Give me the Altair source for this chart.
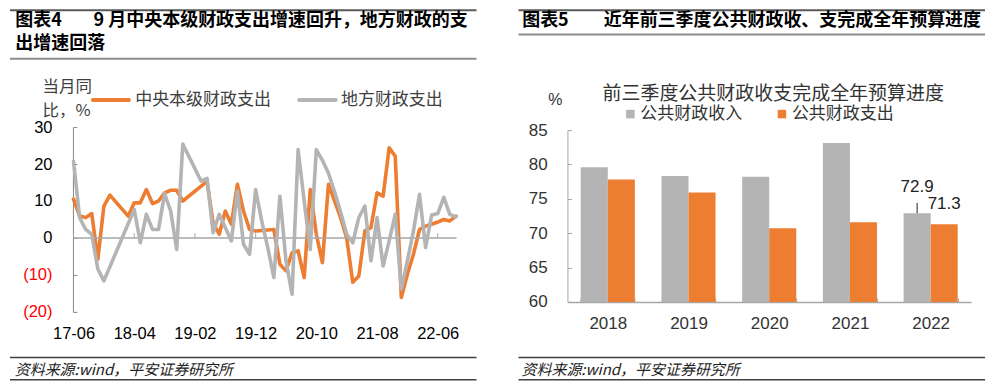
import altair as alt
import pandas as pd

# ---------------- data ----------------
months = [
    "17-06", "17-07", "17-08", "17-09", "17-10", "17-11", "17-12",
    "18-01", "18-02", "18-03", "18-04", "18-05", "18-06", "18-07", "18-08", "18-09", "18-10", "18-11", "18-12",
    "19-01", "19-02", "19-03", "19-04", "19-05", "19-06", "19-07", "19-08", "19-09", "19-10", "19-11", "19-12",
    "20-01", "20-02", "20-03", "20-04", "20-05", "20-06", "20-07", "20-08", "20-09", "20-10", "20-11", "20-12",
    "21-01", "21-02", "21-03", "21-04", "21-05", "21-06", "21-07", "21-08", "21-09", "21-10", "21-11", "21-12",
    "22-01", "22-02", "22-03", "22-04", "22-05", "22-06", "22-07", "22-08", "22-09",
]
central = [
    10.5, 6.0, 5.5, 6.6, -5.8, 8.6, 11.6,
    None, None, 5.9, 9.5, 9.5, 13.1, 9.3, 10.0, 12.2, 12.9, 12.9, 10.0,
    None, None, None, 15.3, 4.0, 1.0, 7.3, 3.7, 14.5, 7.3, 2.3, 1.9,
    None, None, 2.3, -7.1, -8.9, -4.0, -3.5, -10.7, 13.1, 1.0, -6.7, 14.5,
    10.0, 5.5, 0.0, -12.0, -10.3, 1.9, 2.8, 12.2, 11.3, 24.4, 22.1, -16.1,
    -9.8, -4.4, 2.3, 3.2, 3.7, 4.3, 5.0, 4.6, 5.9,
]
local = [
    20.8, 5.5, 2.3, 1.0, -8.4, -11.6, None,
    None, None, None, 7.7, -1.3, 6.4, 2.3, 2.3, 12.0, 7.3, -3.1, 25.4,
    None, None, 15.4, 16.1, 1.4, 6.4, 2.8, -0.8, 12.7, -1.7, -4.4, 13.1,
    4.6, -2.6, -10.7, 11.3, -6.2, -15.2, 23.9, 10.0, -3.1, 23.9, 21.0, 17.5,
    12.5, 7.0, 1.0, -1.3, 5.5, 8.6, -6.2, 5.5, -7.6, -0.8, 6.4, -13.8,
    -6.2, 1.9, 11.8, -2.6, 6.2, 6.6, 11.0, 6.4, 5.7,
]
tick_months = ["17-06", "18-04", "19-02", "19-12", "20-10", "21-08", "22-06"]
left_y_ticks = [-20, -10, 0, 10, 20, 30]

years = ["2018", "2019", "2020", "2021", "2022"]
revenue = [79.6, 78.3, 78.2, 83.1, 72.9]
expenditure = [77.8, 75.9, 70.7, 71.6, 71.3]
right_y_ticks = [60, 65, 70, 75, 80, 85]

S_C = "中央本级财政支出"
S_L = "地方财政支出"
REV = "公共财政收入"
EXP = "公共财政支出"

# ---------------- style ----------------
ORANGE = "#ED7D31"
GRAY = "#B4B4B4"
CJK = "Noto Sans CJK SC"
NUM = "Liberation Sans"

one = pd.DataFrame({"k": [0]})


def txt(x, y, s, size=16, color="#333333", align="left", weight="normal",
        style="normal", font=CJK):
    return alt.Chart(one).mark_text(
        align=align, baseline="middle", fontSize=size, color=color, font=font,
        fontWeight=weight, fontStyle=style,
    ).encode(x=alt.value(x), y=alt.value(y), text=alt.value(s))


def hline(x1, x2, y, color, width, cap="butt"):
    return alt.Chart(one).mark_rule(color=color, strokeWidth=width, strokeCap=cap).encode(
        x=alt.value(x1), x2=alt.value(x2), y=alt.value(y)
    )


def square(x, y, color, size=72):
    return alt.Chart(one).mark_square(color=color, size=size, opacity=1).encode(
        x=alt.value(x), y=alt.value(y)
    )


# ---------------- left panel ----------------
df_c = pd.DataFrame({"month": months, "value": central, "series": S_C}).dropna()
df_l = pd.DataFrame({"month": months, "value": local, "series": S_L}).dropna()
df_ticks = pd.DataFrame({"month": tick_months})

x_left = alt.X(
    "month:O",
    scale=alt.Scale(type="point", domain=months, padding=0.1),
    axis=alt.Axis(values=tick_months, labelAngle=0, domain=False, ticks=False,
                  labelFont=NUM, labelFontSize=16.5, labelColor="#000000",
                  labelPadding=13.5, title=None, labelOverlap=False),
)
y_left = alt.Y(
    "value:Q",
    scale=alt.Scale(domain=[-20, 30], nice=False, zero=False),
    axis=alt.Axis(
        values=left_y_ticks, tickCount=20, title=None, grid=False, labelOverlap=False,
        domainColor="#868686", domainWidth=1, tickColor="#868686", tickWidth=1,
        tickSize=alt.ExprRef(expr="-4"), labelPadding=25,
        labelFont=NUM, labelFontSize=16.5,
        labelExpr="datum.value < 0 ? '(' + abs(datum.value) + ')' : datum.label",
        labelColor={"condition": {"test": "datum.value < 0", "value": "#FF0000"},
                    "value": "#000000"},
    ),
)

line_c = alt.Chart(df_c).mark_line(
    color=ORANGE, strokeWidth=3.6, strokeJoin="round", strokeCap="round"
).encode(x=x_left, y=y_left)
line_l = alt.Chart(df_l).mark_line(
    color=GRAY, strokeWidth=3.6, strokeJoin="round", strokeCap="round"
).encode(x=x_left, y=y_left)

zero_line = alt.Chart(one).mark_rule(color="#A6A6A6", strokeWidth=1.5).encode(
    y=alt.datum(0)
)
x_tick_marks = alt.Chart(df_ticks).mark_rule(color="#A6A6A6", strokeWidth=1).encode(
    x=alt.X("month:O"), y=alt.datum(0), y2=alt.datum(1.3)
)

left = alt.layer(
    line_c, zero_line, x_tick_marks, line_l,
    # header
    hline(-63, 404, -117, "#595959", 2),
    txt(-57.7, -106, "图表4", 18, "#000000", weight="bold"),
    txt(20.7, -106, "9 月中央本级财政支出增速回升，地方财政的支", 18, "#000000", weight="bold"),
    txt(-57.7, -83.5, "出增速回落", 18, "#000000", weight="bold"),
    hline(-63, 404, -68.3, "#8C8C8C", 2),
    # y title
    txt(-30.5, -40, "当月同", 16.5, "#404040"),
    txt(-30.5, -16, "比，%", 16.5, "#404040"),
    # legend
    hline(20, 56, -27, ORANGE, 4, "round"),
    txt(62.3, -27, S_C, 17, "#404040"),
    hline(226.5, 263, -27, GRAY, 4, "round"),
    txt(268.3, -27, S_L, 17, "#404040"),
    # footer
    hline(-63, 404, 230.7, "#404040", 1.5),
    txt(-58.3, 243, "资料来源:wind，平安证券研究所", 15, "#222222", style="italic"),
    hline(-63, 404, 253, "#404040", 1.5),
).properties(width=384, height=185)

# ---------------- right panel ----------------
df_bar = pd.concat([
    pd.DataFrame({"year": years, "series": REV, "value": revenue}),
    pd.DataFrame({"year": years, "series": EXP, "value": expenditure}),
])
df_rev_lab = df_bar[(df_bar["year"] == years[-1]) & (df_bar["series"] == REV)]
df_exp_lab = df_bar[(df_bar["year"] == years[-1]) & (df_bar["series"] == EXP)]

x_right = alt.X(
    "year:N",
    scale=alt.Scale(domain=years, paddingInner=0.33, paddingOuter=0.165),
    axis=alt.Axis(title=None, labelAngle=0, domainColor="#A6A6A6", domainWidth=1.5,
                  tickBand="extent", tickColor="#A6A6A6", tickWidth=1,
                  tickSize=alt.ExprRef(expr="-4"),
                  labelFont=NUM, labelFontSize=17, labelColor="#333333",
                  labelPadding=17.5),
)
xo_right = alt.XOffset("series:N", scale=alt.Scale(domain=[REV, EXP], paddingInner=0, paddingOuter=0))
y_right = alt.Y(
    "value:Q",
    scale=alt.Scale(domain=[60, 85], nice=False, zero=False, range=[175, 3]),
    axis=alt.Axis(values=right_y_ticks, tickCount=20, title=None, grid=False, labelOverlap=False,
                  domainColor="#A6A6A6", domainWidth=1, tickColor="#A6A6A6", tickWidth=1,
                  tickSize=alt.ExprRef(expr="-4"), labelPadding=24.3,
                  labelFont=NUM, labelFontSize=17, labelColor="#333333"),
)

bars = alt.Chart(df_bar).mark_bar().encode(
    x=x_right, xOffset=xo_right, y=y_right, y2=alt.datum(60),
    color=alt.Color("series:N", scale=alt.Scale(domain=[REV, EXP], range=[GRAY, ORANGE]), legend=None),
)
lab_rev = alt.Chart(df_rev_lab).mark_text(
    font=NUM, fontSize=17, color="#222222", dy=-26.2, baseline="middle"
).encode(x=alt.X("year:N"), xOffset=alt.XOffset("series:N"), y=alt.Y("value:Q"),
         text=alt.Text("value:Q", format=".1f"))
lead_rev = alt.Chart(df_rev_lab).transform_calculate(top="datum.value + 1.5").mark_rule(
    color="#222222", strokeWidth=1
).encode(x=alt.X("year:N"), xOffset=alt.XOffset("series:N"), y=alt.Y("value:Q"), y2="top:Q")
lab_exp = alt.Chart(df_exp_lab).mark_text(
    font=NUM, fontSize=17, color="#222222", dy=-20.6, baseline="middle"
).encode(x=alt.X("year:N"), xOffset=alt.XOffset("series:N"), y=alt.Y("value:Q"),
         text=alt.Text("value:Q", format=".1f"))

right = alt.layer(
    bars, lead_rev, lab_rev, lab_exp,
    # header
    hline(-49, 418, -117, "#595959", 2),
    txt(-45.3, -106, "图表5", 18, "#000000", weight="bold"),
    txt(36.3, -106, "近年前三季度公共财政收、支完成全年预算进度", 18, "#000000", weight="bold"),
    hline(-49, 418, -92.7, "#8C8C8C", 2),
    # chart title, unit, legend
    txt(206, -33, "前三季度公共财政收支完成全年预算进度", 19, "#333333", align="center"),
    txt(-12, -27, "%", 16, "#333333", align="center", font=NUM),
    square(63, -13, GRAY),
    txt(73, -13, REV, 17, "#333333"),
    square(214.7, -13, ORANGE),
    txt(224.7, -13, EXP, 17, "#333333"),
    # footer
    hline(-49, 418, 230.7, "#404040", 1.5),
    txt(-46, 243, "资料来源:wind，平安证券研究所", 15, "#222222", style="italic"),
    hline(-49, 418, 253, "#404040", 1.5),
).properties(width=404, height=175)

chart = alt.hconcat(left, right, spacing=38).properties(
    padding=0, background="white"
).configure_view(stroke="transparent")

chart.save("out.html", embed_options={"renderer": "svg", "actions": False})
